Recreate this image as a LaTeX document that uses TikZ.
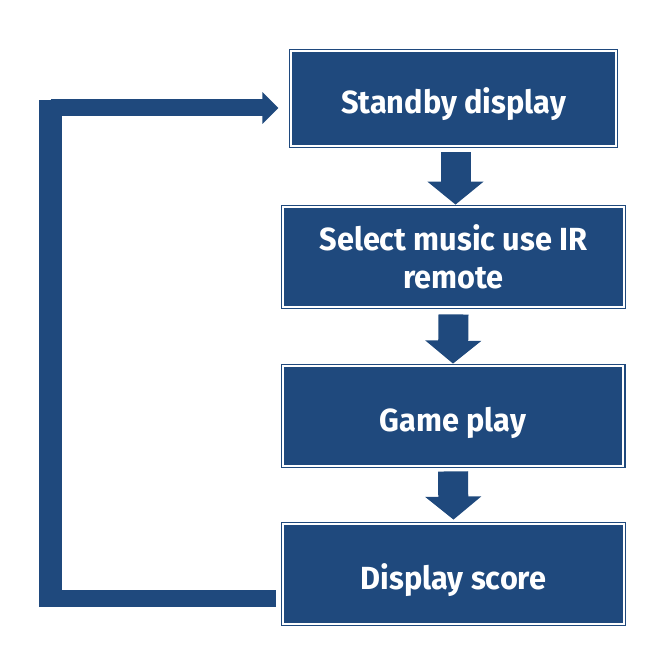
\documentclass[tikz,border=0pt]{standalone}
\usepackage{fontspec}
\newfontfamily\boxfont{Fira Sans}[FakeStretch=0.96]
\usetikzlibrary{arrows.meta}
\definecolor{flowblue}{HTML}{1F497D}
\tikzset{
    stepbox/.style={draw=flowblue, line width=1.2pt, double=white, double distance=2pt,
        fill=flowblue, text=white, inner sep=0pt, align=center,
        minimum width=340.6pt, minimum height=99.6pt,
        font=\boxfont\bfseries\fontsize{32}{38}\selectfont},
    onerow/.style={text height=34pt, text depth=4pt},
    fatarrow/.style={flowblue, line width=30pt, -{Triangle[width=55pt,length=23pt]}},
    loopline/.style={flowblue, line width=17pt}
}
\begin{document}
\begin{tikzpicture}[x=1pt,y=-1pt]

    % --- Canvas ---
    \useasboundingbox (0,0) rectangle (662,668);

    % --- Boxes ---
    \node[stepbox, onerow, minimum width=324.6pt, minimum height=94.6pt] (b1) at (453.5,98.5) {Standby display};
    \node[stepbox] (b2) at (453.5,257) {Select music use IR\\remote};
    \node[stepbox, onerow] (b3) at (453,416) {Game play};
    \node[stepbox, onerow] (b4) at (453.5,574) {Display score};

    % --- Down arrows between boxes ---
    \draw[fatarrow] ([xshift=2pt,yshift=-6pt]b1.south) -- ([xshift=2pt,yshift=2pt]b2.north);
    \draw[fatarrow] ([yshift=-7pt]b2.south) -- ([yshift=2pt]b3.north);
    \draw[fatarrow] ([yshift=-5pt]b3.south) -- ([yshift=4pt]b4.north);

    % --- Return loop from score back to standby ---
    \coordinate (loopx) at (50.5,0);
    \coordinate (retA) at ([xshift=-7pt,yshift=-24.5pt]b4.west);
    \coordinate (retB) at ([xshift=-12.2pt,yshift=-9.5pt]b1.west);
    \draw[loopline, line width=23pt] (50.5,607) -- (50.5,100);
    \draw[loopline] (retA) -- (loopx |- retA);
    \draw[loopline, -{Triangle[width=31pt,length=16pt]}] (loopx |- retB) -- (retB);

\end{tikzpicture}
\end{document}
